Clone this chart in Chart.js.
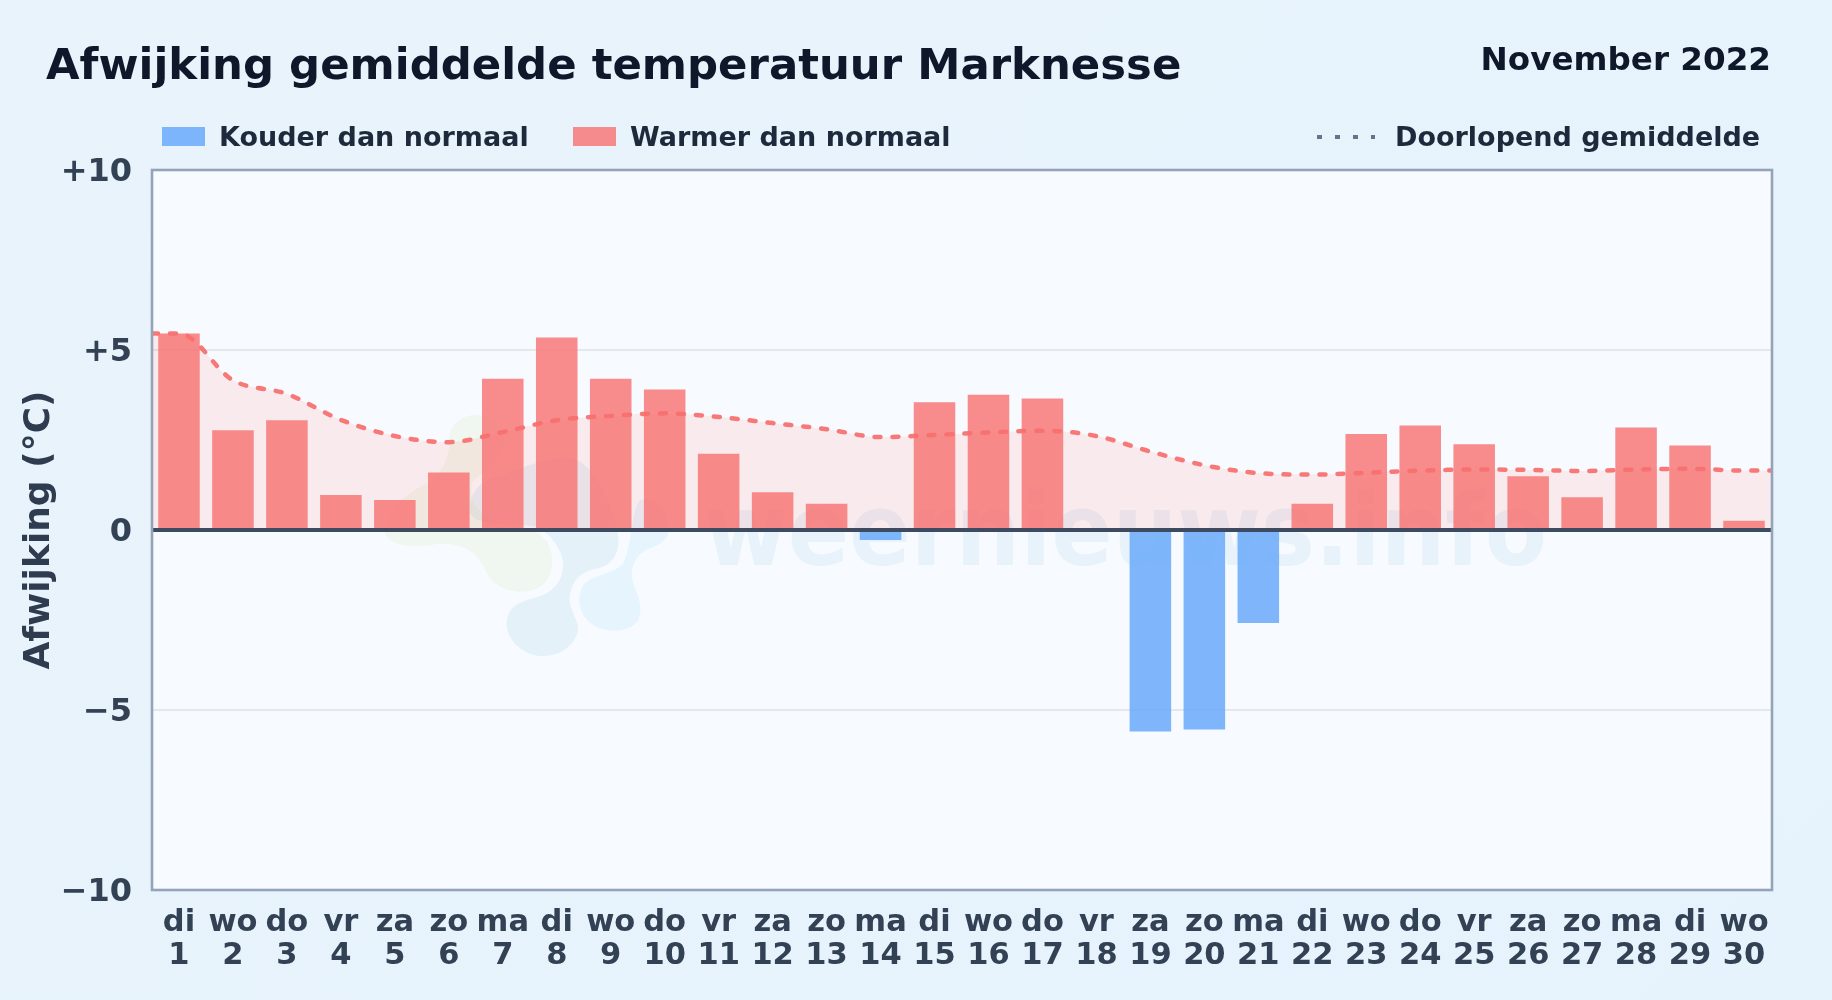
<!DOCTYPE html>
<html lang="nl">
<head>
<meta charset="utf-8">
<title>Afwijking gemiddelde temperatuur Marknesse</title>
<script src="https://cdn.jsdelivr.net/npm/chart.js@4/dist/chart.umd.js"></script>
<style>
  html, body { margin: 0; padding: 0; }
  body {
    width: 1832px; height: 1000px; overflow: hidden; position: relative;
    background: linear-gradient(135deg, #e8f3fc 0%, #e7f3fc 100%);
    font-family: "DejaVu Sans", sans-serif; font-weight: bold;
  }
  #backdrop, #sensorCanvas { position: absolute; left: 0; top: 0; }
  .txt { position: absolute; white-space: nowrap; line-height: 1; }
  #title { left: 46px; top: 43px; font-size: 43.4px; color: #0f172a; }
  #period { right: 61px; top: 43px; font-size: 32.6px; color: #0f172a; }
  .leg { font-size: 27px; color: #1e293b; top: 123px; }
  .swatch { position: absolute; top: 127px; height: 19px; width: 43px; }
  .dots { position: absolute; top: 135px; left: 1317px; width: 58px; height: 4px;
          background: repeating-linear-gradient(90deg, #64748b 0 5px, transparent 5px 18px); }
</style>
</head>
<body>
<svg id="backdrop" width="1832" height="1000" xmlns="http://www.w3.org/2000/svg">
  <rect x="152" y="170" width="1620" height="720" fill="#f7fbff"/>
  <g transform="translate(370 400) scale(0.3333)">
    <path fill="rgba(59,140,190,0.09)" d="M410,670 C410,620 450,605 500,592 C560,575 585,530 578,480 C570,440 540,400 500,380 C420,370 320,380 300,340 C295,280 330,235 400,225 C460,200 560,160 620,180 C680,205 730,320 745,410 C750,470 720,500 670,508 C620,520 595,560 600,610 C610,650 630,670 622,700 C605,750 560,770 510,768 C460,765 408,720 410,670 Z"/>
    <path fill="rgba(190,220,130,0.12)" d="M310,45 C270,50 235,75 238,120 C240,170 220,220 170,250 C110,280 50,330 45,400 C60,440 130,445 200,432 C270,428 320,450 345,510 C370,570 440,585 490,570 C545,550 560,490 535,430 C510,390 440,375 390,365 C330,350 295,310 305,250 C330,215 420,170 400,110 C385,65 350,40 310,45 Z"/>
    <path fill="rgba(100,190,245,0.11)" d="M810,300 C860,290 900,340 895,395 C890,430 850,440 825,452 C790,475 778,510 790,550 C805,590 820,620 805,660 C780,700 710,700 670,675 C630,650 615,600 640,555 C665,525 720,525 755,495 C785,460 780,340 810,300 Z"/>
  </g>
  <text x="704" y="565" font-family="DejaVu Sans" font-weight="bold" font-size="100" textLength="843" lengthAdjust="spacingAndGlyphs" fill="rgba(59,140,190,0.08)">weernieuws.info</text>
</svg>
<canvas id="sensorCanvas" width="1832" height="1000"></canvas>

<div class="txt" id="title">Afwijking gemiddelde temperatuur Marknesse</div>
<div class="txt" id="period">November 2022</div>
<div class="swatch" style="left:162px;background:rgba(96,165,250,0.8)"></div>
<div class="txt leg" style="left:219px">Kouder dan normaal</div>
<div class="swatch" style="left:573px;background:rgba(248,113,113,0.8)"></div>
<div class="txt leg" style="left:630px">Warmer dan normaal</div>
<div class="dots"></div>
<div class="txt leg" style="left:1395px">Doorlopend gemiddelde</div>

<script>
// Data
const weekdays = ['di','wo','do','vr','za','zo','ma','di','wo','do','vr','za','zo','ma','di','wo','do','vr','za','zo','ma','di','wo','do','vr','za','zo','ma','di','wo'];
const days = [1,2,3,4,5,6,7,8,9,10,11,12,13,14,15,16,17,18,19,20,21,22,23,24,25,26,27,28,29,30];
const deviation = [5.46,2.77,3.05,0.97,0.83,1.6,4.2,5.35,4.2,3.9,2.12,1.05,0.73,-0.28,3.55,3.76,3.65,0,-5.6,-5.54,-2.58,0.73,2.67,2.9,2.38,1.49,0.91,2.85,2.35,0.26];
const runningMean = [5.46,4.16,3.78,3.06,2.61,2.44,2.72,3.05,3.17,3.24,3.14,2.97,2.8,2.58,2.64,2.71,2.76,2.61,2.18,1.8,1.58,1.54,1.59,1.65,1.68,1.67,1.64,1.68,1.7,1.65];
const yTicks = [-10,-5,0,5,10];

const labels = days.map((d, i) => [weekdays[i], String(d)]);
// line runs on from the first and last day to the plot edges
const linePoints = [{x: 0.5, y: runningMean[0]}]
  .concat(days.map((d, i) => ({x: d, y: runningMean[i]})))
  .concat([{x: 30.5, y: runningMean[29]}]);

const tickFont = {family: 'DejaVu Sans', weight: 'bold'};

// frame round the plot and the heavy zero line
const plotFrame = {
  id: 'plotFrame',
  afterDatasetsDraw(chart) {
    const {ctx, chartArea: a, scales} = chart;
    const y0 = scales.y.getPixelForValue(0);
    ctx.save();
    ctx.strokeStyle = '#3d4a60';
    ctx.lineWidth = 4;
    ctx.beginPath();
    ctx.moveTo(a.left, y0);
    ctx.lineTo(a.right + 1, y0);
    ctx.stroke();
    ctx.strokeStyle = '#94a3b8';
    ctx.lineWidth = 2.6;
    ctx.strokeRect(a.left, a.top, a.right + 1 - a.left, a.bottom - a.top);
    ctx.restore();
  }
};

const sensorChart = new Chart(document.getElementById('sensorCanvas').getContext('2d'), {
  data: {
    labels: labels,
    datasets: [
      {
        type: 'line',
        label: 'Doorlopend gemiddelde',
        data: linePoints,
        xAxisID: 'xLine',
        order: 0,
        borderColor: 'rgba(248,113,113,0.95)',
        borderWidth: 4.5,
        borderDash: [6, 12],
        borderCapStyle: 'round',
        cubicInterpolationMode: 'monotone',
        pointRadius: 0,
        fill: 'origin',
        backgroundColor: 'rgba(252,113,105,0.12)'
      },
      {
        type: 'bar',
        label: 'Afwijking',
        data: deviation,
        xAxisID: 'x',
        order: 1,
        grouped: false,
        barPercentage: 0.77,
        categoryPercentage: 1,
        backgroundColor: deviation.map(v => v < 0 ? 'rgba(96,165,250,0.8)' : 'rgba(248,113,113,0.8)')
      }
    ]
  },
  options: {
    responsive: false,
    animation: false,
    layout: {padding: {top: 170, right: 61, bottom: 0, left: 0}},
    plugins: {
      legend: {display: false},
      tooltip: {enabled: false},
      filler: {drawTime: 'beforeDatasetsDraw'}
    },
    scales: {
      x: {
        type: 'category',
        offset: true,
        afterFit(scale) { scale.height = 110; },
        grid: {display: false},
        border: {display: false},
        ticks: {color: '#334155', font: {...tickFont, size: 30.5, lineHeight: '33px'}, padding: 9, maxRotation: 0, autoSkip: false}
      },
      xLine: {type: 'linear', display: false, min: 0.5, max: 30.5},
      y: {
        min: -10,
        max: 10,
        afterFit(scale) { scale.width = 152; },
        afterBuildTicks(scale) { scale.ticks = yTicks.map(v => ({value: v})); },
        grid: {color: '#e2e8ec', lineWidth: 2, drawTicks: false},
        border: {display: false},
        ticks: {
          color: '#334155',
          font: {...tickFont, size: 32, lineHeight: '5px'},
          padding: 20,
          // empty first line nudges the label down onto its grid line
          callback: v => ['', v > 0 ? '+' + v : v < 0 ? '\u2212' + Math.abs(v) : '0']
        },
        title: {display: true, text: 'Afwijking (\u00B0C)', color: '#2f3c50', font: {...tickFont, size: 36}, padding: {top: 18, bottom: 0}}
      }
    }
  },
  plugins: [plotFrame]
});
</script>
</body>
</html>
